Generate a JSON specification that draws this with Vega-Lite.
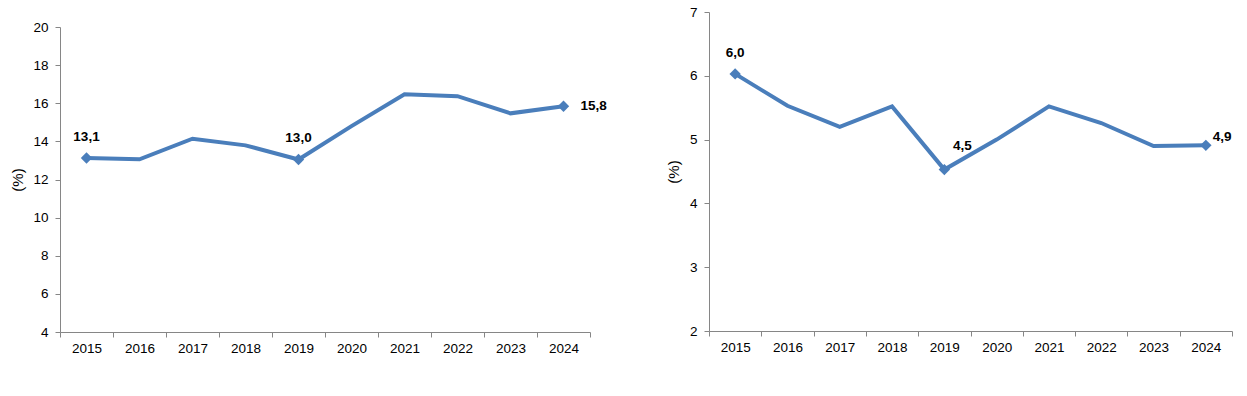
{
  "$schema": "https://vega.github.io/schema/vega-lite/v6.json",
  "background": "white",
  "padding": {"left": 10, "top": 5, "right": 5, "bottom": 5},
  "config": {
    "view": {"stroke": null},
    "font": "Liberation Sans",
    "axis": {
      "domainColor": "#868686",
      "tickColor": "#868686",
      "labelColor": "#000000",
      "labelFont": "Liberation Sans",
      "labelFontSize": 13.5,
      "titleFont": "Liberation Sans",
      "titleFontSize": 15,
      "titleFontWeight": "normal",
      "titleColor": "#000000",
      "grid": false,
      "tickSize": 5
    },
    "concat": {"spacing": 59}
  },
  "datasets": {
    "left": [
      {"year": "2015", "value": 13.13, "lab": "13,1"},
      {"year": "2016", "value": 13.06, "lab": ""},
      {"year": "2017", "value": 14.14, "lab": ""},
      {"year": "2018", "value": 13.79, "lab": ""},
      {"year": "2019", "value": 13.05, "lab": "13,0"},
      {"year": "2020", "value": 14.8, "lab": ""},
      {"year": "2021", "value": 16.47, "lab": ""},
      {"year": "2022", "value": 16.37, "lab": ""},
      {"year": "2023", "value": 15.47, "lab": ""},
      {"year": "2024", "value": 15.84, "lab": "15,8"}
    ],
    "right": [
      {"year": "2015", "value": 6.03, "lab": "6,0"},
      {"year": "2016", "value": 5.53, "lab": ""},
      {"year": "2017", "value": 5.2, "lab": ""},
      {"year": "2018", "value": 5.52, "lab": ""},
      {"year": "2019", "value": 4.53, "lab": "4,5"},
      {"year": "2020", "value": 5.0, "lab": ""},
      {"year": "2021", "value": 5.52, "lab": ""},
      {"year": "2022", "value": 5.26, "lab": ""},
      {"year": "2023", "value": 4.9, "lab": ""},
      {"year": "2024", "value": 4.91, "lab": "4,9"}
    ],
    "empty": []
  },
  "hconcat": [
    {
      "spacing": 0,
      "vconcat": [
        {
          "data": {"name": "empty"},
          "width": 530,
          "height": 8,
          "mark": {"type": "point"}
        },
        {
          "data": {"name": "left"},
          "width": 530,
          "height": 305,
          "encoding": {
            "x": {
              "field": "year", "type": "ordinal", "bandPosition": 0.5,
              "scale": {"type": "band", "paddingInner": 0, "paddingOuter": 0},
              "axis": {"title": null, "labelAngle": 0, "tickBand": "extent", "labelPadding": 4}
            },
            "y": {
              "field": "value", "type": "quantitative",
              "scale": {"domain": [4, 20], "nice": false, "zero": false},
              "axis": {"title": "(%)", "values": [4, 6, 8, 10, 12, 14, 16, 18, 20], "labelPadding": 7, "titlePadding": 7}
            }
          },
          "layer": [
            {"mark": {"type": "line", "color": "#4A7EBB", "strokeWidth": 4}},
            {
              "transform": [{"filter": "datum.lab != ''"}],
              "mark": {"type": "point", "shape": "diamond", "filled": true, "size": 130, "color": "#4A7EBB", "opacity": 1}
            },
            {
              "transform": [{"filter": "datum.year == '2015' || datum.year == '2019'"}],
              "mark": {"type": "text", "fontWeight": "bold", "fontSize": 13.5, "dy": -21, "color": "#000000"},
              "encoding": {"text": {"field": "lab"}}
            },
            {
              "transform": [{"filter": "datum.year == '2024'"}],
              "mark": {"type": "text", "fontWeight": "bold", "fontSize": 13.5, "align": "left", "dx": 17, "color": "#000000"},
              "encoding": {"text": {"field": "lab"}}
            }
          ]
        }
      ]
    },
    {
      "data": {"name": "right"},
      "width": 523,
      "height": 319,
      "encoding": {
        "x": {
          "field": "year", "type": "ordinal", "bandPosition": 0.5,
          "scale": {"type": "band", "paddingInner": 0, "paddingOuter": 0},
          "axis": {"title": null, "labelAngle": 0, "tickBand": "extent", "labelPadding": 4}
        },
        "y": {
          "field": "value", "type": "quantitative",
          "scale": {"domain": [2, 7], "nice": false, "zero": false},
          "axis": {"title": "(%)", "values": [2, 3, 4, 5, 6, 7], "labelPadding": 7, "titlePadding": 8}
        }
      },
      "layer": [
        {"mark": {"type": "line", "color": "#4A7EBB", "strokeWidth": 4}},
        {
          "transform": [{"filter": "datum.lab != ''"}],
          "mark": {"type": "point", "shape": "diamond", "filled": true, "size": 130, "color": "#4A7EBB", "opacity": 1}
        },
        {
          "transform": [{"filter": "datum.year == '2015'"}],
          "mark": {"type": "text", "fontWeight": "bold", "fontSize": 13.5, "dy": -21, "color": "#000000"},
          "encoding": {"text": {"field": "lab"}}
        },
        {
          "transform": [{"filter": "datum.year == '2019'"}],
          "mark": {"type": "text", "fontWeight": "bold", "fontSize": 13.5, "dx": 18, "dy": -24, "color": "#000000"},
          "encoding": {"text": {"field": "lab"}}
        },
        {
          "transform": [{"filter": "datum.year == '2024'"}],
          "mark": {"type": "text", "fontWeight": "bold", "fontSize": 13.5, "align": "left", "dx": 7, "dy": -8, "color": "#000000"},
          "encoding": {"text": {"field": "lab"}}
        }
      ]
    }
  ]
}
